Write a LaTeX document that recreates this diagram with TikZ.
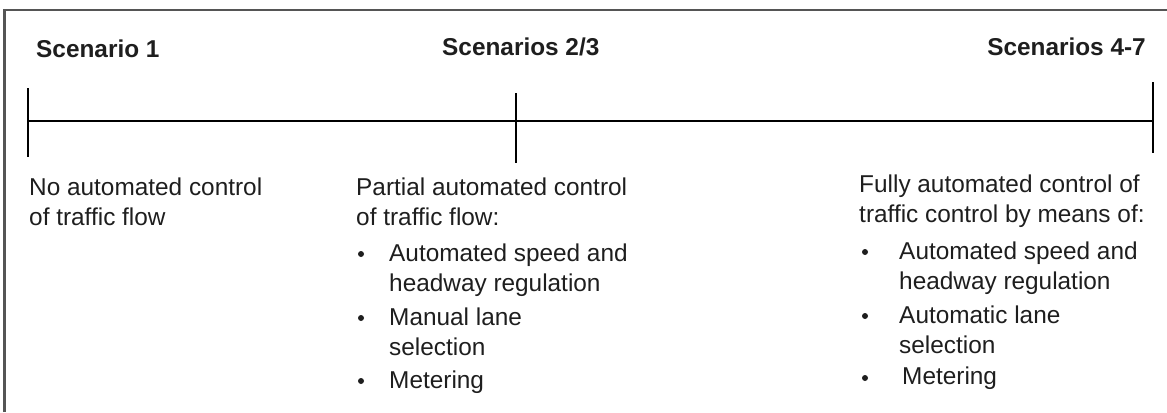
\documentclass[tikz,border=0pt]{standalone}
\usepackage{fontspec}
\setmainfont{Liberation Sans}
\usepackage{xcolor}
\usepackage{tikz}

\definecolor{framegray}{HTML}{555555}
\definecolor{inkgray}{HTML}{1E1E1E}

\tikzset{
  head/.style={font=\bfseries, text=inkgray, inner sep=0pt},
  body/.style={text=inkgray, inner sep=0pt, anchor=base west},
  dot/.style={circle, fill=inkgray, inner sep=0pt, minimum size=1.8mm},
  axis/.style={line width=1.8pt, black},
  tick/.style={line width=2pt, black},
}

\begin{document}
\begin{tikzpicture}[x=0.3mm, y=-0.3mm]
\fontsize{20.8}{25.6}\selectfont
\useasboundingbox (0,0) rectangle (1167,412);

%%% --- Frame (top and left edges only) --- %%%
\draw[framegray, line width=1.8pt] (4.5,412) -- (4.5,10) -- (1167,10);

%%% --- Headings --- %%%
\node[head, anchor=base west] (h1) at (36,57) {Scenario 1};
\node[head, anchor=base west] (h23) at (442,55) {Scenarios 2/3};
\node[head, anchor=base east] (h47) at (1146,55) {Scenarios 4-7};

%%% --- Timeline --- %%%
\coordinate (s1) at (28,121);
\coordinate (s23) at (516,121);
\coordinate (s47) at (1153,121);
\draw[axis] (s1) -- (s47);

% ticks
\draw[tick] (s1) ++(0,-33) -- ++(0,69);
\draw[tick] (s23) ++(0,-28) -- ++(0,70);
\draw[tick] (s47) ++(0,-39) -- ++(0,71);

%%% --- Scenario 1 text --- %%%
\foreach \y/\t [count=\i] in {195/No automated control, 225/of traffic flow}
  \node[body] (s1l\i) at (29,\y) {\t};

%%% --- Scenarios 2/3 text --- %%%
\foreach \y/\t [count=\i] in {195/Partial automated control, 225/of traffic flow:}
  \node[body] (s23l\i) at (356,\y) {\t};

\foreach \y/\t [count=\i] in {261/Automated speed and, 291/headway regulation,
    325/Manual lane, 355/selection, 388/Metering}
  \node[body] (s23b\i) at (389,\y) {\t};

\foreach \y [count=\i] in {254,318,381}
  \node[dot] (s23d\i) at (361,\y) {};

%%% --- Scenarios 4-7 text --- %%%
\foreach \y/\t [count=\i] in {192/Fully automated control of, 222/traffic control by means of:}
  \node[body] (s47l\i) at (859,\y) {\t};

\foreach \x/\y/\t [count=\i] in {899/259/Automated speed and, 899/289/headway regulation,
    899/323/Automatic lane, 899/353/selection, 902/384/Metering}
  \node[body] (s47b\i) at (\x,\y) {\t};

\foreach \y [count=\i] in {252,316,378}
  \node[dot] (s47d\i) at (865,\y) {};

\end{tikzpicture}
\end{document}
